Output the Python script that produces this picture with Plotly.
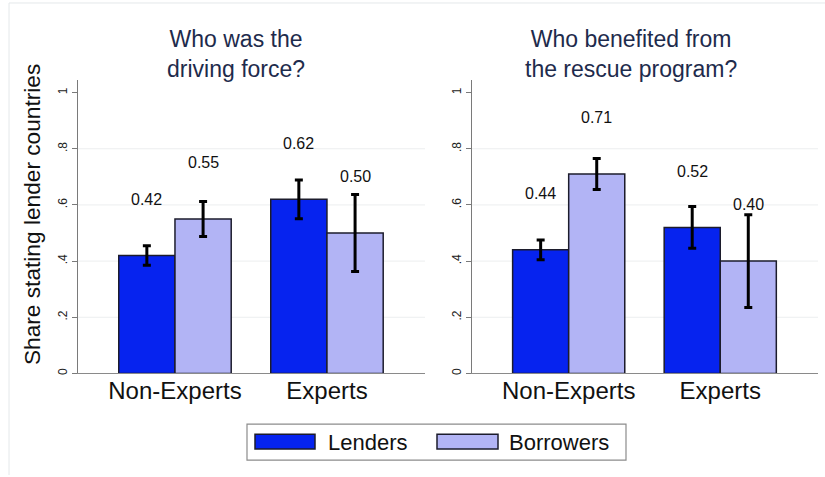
import plotly.graph_objects as go
from plotly.subplots import make_subplots

# ---- data ----
categories = ["Non-Experts", "Experts"]
series_names = ["Lenders", "Borrowers"]
panel_titles = ["Who was the<br>driving force?", "Who benefited from<br>the rescue program?"]

driving_lenders = [0.42, 0.62]
driving_borrowers = [0.55, 0.50]
driving_lenders_err = [0.035, 0.069]
driving_borrowers_err = [0.062, 0.137]

benefit_lenders = [0.44, 0.52]
benefit_borrowers = [0.71, 0.40]
benefit_lenders_err = [0.035, 0.074]
benefit_borrowers_err = [0.055, 0.165]

y_tick_vals = [0, 0.2, 0.4, 0.6, 0.8, 1]
y_tick_text = ["0", ".2", ".4", ".6", ".8", "1"]
grid_vals = [0.2, 0.4, 0.6, 0.8]
y_title = "Share stating lender countries"

# ---- style ----
W, H = 825, 477
FONT = "Liberation Sans, Arial, Helvetica, sans-serif"
C_LEND = "#0623ef"
C_BORR = "#b2b4f5"
OUTLINE = "#1c1c2c"
BARGAP = 0.26
LABEL_GAP = 0.2

def px_x(p):
    return p / W

def px_y(p):
    return 1 - p / H

fig = make_subplots(rows=1, cols=2)

panels = [
    (driving_lenders, driving_lenders_err, driving_borrowers, driving_borrowers_err),
    (benefit_lenders, benefit_lenders_err, benefit_borrowers, benefit_borrowers_err),
]
colors = [C_LEND, C_BORR]

for ci, (l, le, b, be) in enumerate(panels, start=1):
    for si, (vals, errs) in enumerate([(l, le), (b, be)]):
        fig.add_trace(go.Bar(
            x=categories, y=vals, name=series_names[si],
            marker=dict(color=colors[si], line=dict(color=OUTLINE, width=1.5)),
            error_y=dict(type="data", array=errs, visible=True,
                         color="#000000", thickness=3, width=4),
            showlegend=False,
        ), row=1, col=ci)
    half = (1 - BARGAP) / 4
    xref = "x" if ci == 1 else "x2"
    yref = "y" if ci == 1 else "y2"
    for si, vals in enumerate([l, b]):
        off = -half if si == 0 else half
        for k, v in enumerate(vals):
            fig.add_annotation(x=k + off, y=v + LABEL_GAP, xref=xref, yref=yref,
                               text=f"{v:.2f}", showarrow=False,
                               font=dict(family=FONT, size=16, color="#111111"),
                               xanchor="center", yanchor="middle")
    for g in grid_vals:
        fig.add_hline(y=g, line=dict(color="#eceeef", width=1), layer="below", row=1, col=ci)

x_domains = [[px_x(78), px_x(425)], [px_x(472), px_x(818)]]
y_domain = [px_y(375), px_y(80)]
yr = [0, (375 - 80) / 282]

for i in (1, 2):
    sfx = "" if i == 1 else str(i)
    fig.layout["xaxis" + sfx].update(
        domain=x_domains[i - 1], range=[-0.638, 1.645], type="category",
        showline=True, linecolor="#8a8a8a", linewidth=1.2, ticks="",
        showgrid=False, zeroline=False, ticklabelstandoff=-4,
        tickfont=dict(family=FONT, size=24, color="#111111"),
    )
    fig.layout["yaxis" + sfx].update(
        domain=y_domain, range=yr, showline=True, linecolor="#7a7a7a", linewidth=1.2,
        ticks="outside", ticklen=5, tickcolor="#7a7a7a", tickwidth=1,
        tickvals=y_tick_vals, ticktext=y_tick_text, tickangle=-90,
        tickfont=dict(family=FONT, size=12, color="#222222"),
        showgrid=False, zeroline=False,
    )

title_x = [236, 631]
for t, xp in zip(panel_titles, title_x):
    fig.add_annotation(x=px_x(xp), y=px_y(54), xref="paper", yref="paper",
                       text=t, showarrow=False, xanchor="center", yanchor="middle",
                       font=dict(family=FONT, size=23, color="#1e2b4c"))

fig.add_annotation(x=px_x(32), y=px_y(216), xref="paper", yref="paper",
                   text=y_title, textangle=-90, showarrow=False,
                   xanchor="center", yanchor="middle",
                   font=dict(family=FONT, size=22.7, color="#111111"))

shapes = []
shapes.append(dict(type="rect", xref="paper", yref="paper",
                   x0=px_x(247), x1=px_x(626), y0=px_y(462), y1=px_y(426),
                   line=dict(color="#8c8c8c", width=1.2), fillcolor="white"))
sw_x = [(255, 315), (437, 498)]
txt_x = [326, 507]
for si in range(2):
    shapes.append(dict(type="rect", xref="paper", yref="paper",
                       x0=px_x(sw_x[si][0]), x1=px_x(sw_x[si][1]),
                       y0=px_y(451), y1=px_y(436),
                       line=dict(color=OUTLINE, width=1.5), fillcolor=colors[si]))
    fig.add_annotation(x=px_x(txt_x[si]), y=px_y(444), xref="paper", yref="paper",
                       text=series_names[si], showarrow=False,
                       xanchor="left", yanchor="middle",
                       font=dict(family=FONT, size=22, color="#111111"))
shapes.append(dict(type="line", xref="paper", yref="paper",
                   x0=px_x(9), x1=1, y0=px_y(3), y1=px_y(3),
                   line=dict(color="#e4e8ea", width=1)))
shapes.append(dict(type="line", xref="paper", yref="paper",
                   x0=px_x(9), x1=px_x(9), y0=0, y1=px_y(3),
                   line=dict(color="#e4e8ea", width=1)))
for s in shapes:
    fig.add_shape(**s)

fig.update_layout(
    width=W, height=H, margin=dict(l=0, r=0, t=0, b=0),
    barmode="group", bargap=BARGAP, bargroupgap=0,
    plot_bgcolor="white", paper_bgcolor="white",
    showlegend=False,
    font=dict(family=FONT),
)

fig.write_html("out.html", config={"displayModeBar": False},
               post_script="document.body.style.margin='0';document.body.style.padding='0';")
